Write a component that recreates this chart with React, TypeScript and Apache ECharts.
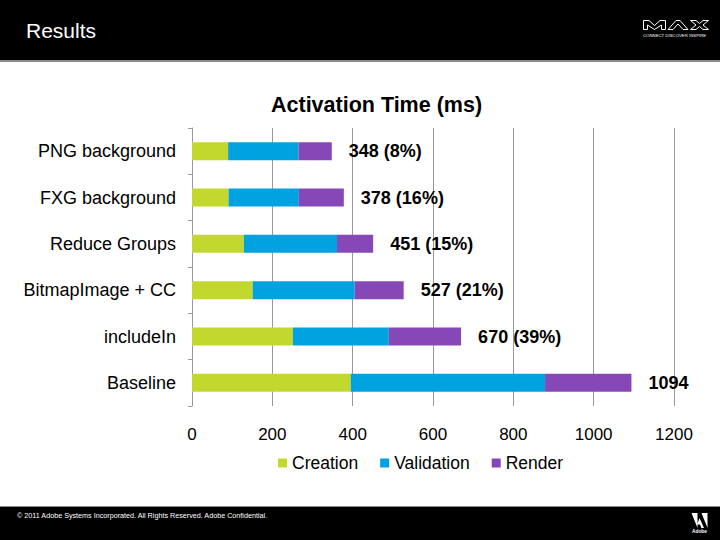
import React, { useEffect, useRef } from "react";
import * as echarts from "echarts";

const categories = ["Baseline", "includeIn", "BitmapImage + CC", "Reduce Groups", "FXG background", "PNG background"];
const creation = [395, 251, 151, 129, 91, 90];
const validation = [484, 239, 254, 232, 175, 175];
const render = [215, 180, 122, 90, 112, 83];
const totalLabels = ["1094", "670 (39%)", "527 (21%)", "451 (15%)", "378 (16%)", "348 (8%)"];
const xTicks = [0, 200, 400, 600, 800, 1000, 1200];

const FONT = "Arial, 'Liberation Sans', sans-serif";

let registered = false;

export default function App() {
  const ref = useRef<HTMLDivElement>(null);
  useEffect(() => {
    if (!ref.current) return;
    if (!registered) {
      const adobeA = "M0 0 L6 0 L6 15 Z M10 0 L16 0 L16 15 Z M8 5 L12.5 15 L9.8 15 L8.6 11.5 L5.6 11.5 Z";
      echarts.graphic.registerShape("adobeA", echarts.graphic.extendPath(adobeA, {}) as any);
      registered = true;
    }
    const chart = echarts.init(ref.current, null, { renderer: "svg" });
    const logoStroke = { fill: "none", stroke: "#fff", lineWidth: 1 };
    chart.setOption({
      animation: false,
      backgroundColor: "#ffffff",
      textStyle: { fontFamily: FONT },
      title: {
        text: "Activation Time (ms)",
        left: 266,
        top: 89,
        textStyle: { fontSize: 21.5, fontWeight: "bold", color: "#000", fontFamily: FONT },
      },
      legend: {
        left: 273,
        top: 449,
        itemWidth: 9,
        itemHeight: 9,
        itemGap: 22,
        icon: "rect",
        textStyle: { fontSize: 17.5, color: "#000", fontFamily: FONT },
        data: ["Creation", "Validation", "Render"],
      },
      grid: { left: 192, right: 46, top: 128, bottom: 134, containLabel: false },
      xAxis: {
        type: "value",
        min: xTicks[0],
        max: xTicks[xTicks.length - 1],
        interval: 200,
        axisLine: { show: false },
        axisTick: { show: false },
        splitLine: { show: true, lineStyle: { color: "#9a9a9a", width: 1 } },
        axisLabel: {
          fontSize: 17,
          color: "#000",
          margin: 20,
          fontFamily: FONT,
          formatter: (v: number) => String(v),
        },
      },
      yAxis: {
        type: "category",
        data: categories,
        axisLine: { show: true, lineStyle: { color: "#9a9a9a", width: 1 } },
        axisTick: { show: true, length: 4, lineStyle: { color: "#9a9a9a" } },
        axisLabel: { fontSize: 18, color: "#000", margin: 16, fontFamily: FONT },
      },
      series: [
        {
          name: "Creation",
          type: "bar",
          stack: "t",
          barWidth: 18,
          data: creation,
          itemStyle: { color: "#c3d82f" },
        },
        {
          name: "Validation",
          type: "bar",
          stack: "t",
          barWidth: 18,
          data: validation,
          itemStyle: { color: "#00a2df" },
        },
        {
          name: "Render",
          type: "bar",
          stack: "t",
          barWidth: 18,
          data: render,
          itemStyle: { color: "#8548b6" },
          label: {
            show: true,
            position: "right",
            distance: 17,
            fontSize: 18,
            fontWeight: "bold",
            color: "#000",
            fontFamily: FONT,
            formatter: (p: any) => totalLabels[p.dataIndex],
          },
        },
      ],
      graphic: [
        { type: "rect", left: 0, top: 0, shape: { width: 720, height: 60 }, style: { fill: "#000" } },
        { type: "rect", left: 0, top: 60, shape: { width: 720, height: 2 }, style: { fill: "#8a8a8a" } },
        {
          type: "text",
          left: 26,
          top: 20,
          style: { text: "Results", fill: "#fff", fontSize: 21, fontFamily: FONT },
        },
        {
          type: "polygon",
          shape: { points: [[643.5, 29.5], [643.5, 20.5], [649, 20.5], [654.5, 25.5], [660, 20.5], [665.5, 20.5], [665.5, 29.5], [661.5, 29.5], [661.5, 25], [654.5, 29.5], [647.5, 25], [647.5, 29.5]] },
          style: logoStroke,
        },
        {
          type: "polygon",
          shape: { points: [[668, 29.5], [676, 20.5], [680, 20.5], [688, 29.5], [683, 29.5], [678, 24], [673, 29.5]] },
          style: logoStroke,
        },
        {
          type: "polygon",
          shape: { points: [[690.5, 20.5], [696, 20.5], [699.5, 23.5], [703, 20.5], [708.5, 20.5], [703, 25], [708.5, 29.5], [703, 29.5], [699.5, 26.5], [696, 29.5], [690.5, 29.5], [696, 25]] },
          style: logoStroke,
        },
        {
          type: "text",
          left: 643,
          top: 33.5,
          style: { text: "CONNECT DISCOVER INSPIRE", fill: "#fff", fontSize: 4.3, fontFamily: FONT },
        },
        { type: "rect", left: 0, top: 506, shape: { width: 720, height: 1 }, style: { fill: "#8a8a8a" } },
        { type: "rect", left: 0, top: 507, shape: { width: 720, height: 33 }, style: { fill: "#000" } },
        {
          type: "text",
          left: 17,
          top: 512,
          style: {
            text: "© 2011 Adobe Systems Incorporated. All Rights Reserved. Adobe Confidential.",
            fill: "#fff",
            fontSize: 7.2,
            fontFamily: FONT,
          },
        },
        {
          type: "adobeA",
          x: 691.5,
          y: 513,
          scaleX: 1,
          scaleY: 1,
          style: { fill: "#fff" },
        },
        {
          type: "text",
          left: 692,
          top: 529,
          style: { text: "Adobe", fill: "#fff", fontSize: 4.8, fontWeight: "bold", fontFamily: FONT },
        },
      ],
    });
    return () => chart.dispose();
  }, []);
  return (
    <div
      ref={ref}
      style={{ position: "fixed", left: 0, top: 0, width: 720, height: 540 }}
    />
  );
}
